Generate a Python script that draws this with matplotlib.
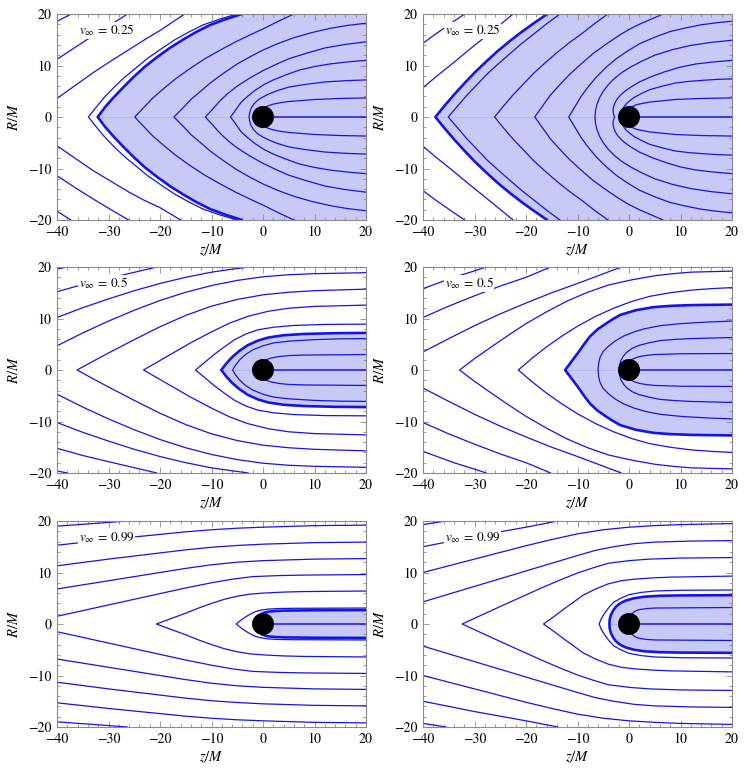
import matplotlib
matplotlib.use('Agg')
from matplotlib import pyplot as plt
from matplotlib.patches import Circle
from matplotlib.ticker import MultipleLocator

# velocities shown in each panel (row by row)
V_LABELS = ['0.25', '0.25', '0.5', '0.5', '0.99', '0.99']

XLIM = (-40, 20)
YLIM = (-20, 20)
HORIZON_R = 2.0
AXIS_LINE = [(2.0, 0.0), (20.0, 0.0)]

# ---- panel 1 : v = 0.25 (left) ----
# upper branches (z, R); "vee" lines are mirrored through R = 0
P1_THICK = [(-32.1, 0), (-30.6, 2.0), (-29.0, 3.8), (-27.1, 5.8), (-25.1, 7.8), (-22.9, 9.8), (-20.6, 11.6),
            (-18.1, 13.4), (-15.4, 15.1), (-12.8, 16.6), (-10.2, 17.9), (-7.2, 19.0), (-4.1, 20.0)]
P1_VEE = [
    [(-33.9, 0), (-32.4, 1.9), (-30.9, 3.7), (-29.0, 5.7), (-27.0, 7.6), (-24.7, 9.5), (-22.4, 11.4),
     (-19.8, 13.2), (-17.1, 15.0), (-14.4, 16.5), (-11.6, 17.9), (-8.4, 19.0), (-5.1, 20.0)],
    [(-24.9, 0), (-23.2, 1.8), (-21.5, 3.6), (-19.3, 5.5), (-17.0, 7.4), (-14.2, 9.4), (-11.3, 11.3),
     (-8.3, 13.0), (-5.3, 14.6), (-2.6, 15.9), (0.0, 17.1), (3.0, 18.6), (6.0, 20.0)],
    [(-17.3, 0), (-15.6, 1.7), (-14.0, 3.4), (-12.0, 5.1), (-10.0, 6.8), (-7.5, 8.6), (-5.0, 10.3),
     (-2.5, 11.7), (0.0, 13.0), (3.0, 14.3), (6.0, 15.4), (9.5, 16.4), (13.0, 17.2), (16.5, 17.8), (20.0, 18.2)],
    [(-11.2, 0), (-9.8, 1.5), (-8.5, 3.0), (-6.8, 4.6), (-5.0, 6.0), (-2.5, 7.6), (0.0, 9.0), (2.5, 10.2),
     (5.0, 11.3), (8.5, 12.4), (12.0, 13.4), (16.0, 14.1), (20.0, 14.6)],
    [(-6.3, 0), (-5.2, 1.5), (-4.3, 2.8), (-3.0, 4.0), (-1.5, 5.2), (0.2, 6.3), (2.0, 7.2), (4.5, 8.2),
     (7.0, 9.1), (10.0, 9.8), (13.0, 10.3), (16.5, 10.7), (20.0, 11.0)],
    [(-2.7, 0), (-2.6, 0.8), (-2.3, 1.7), (-1.8, 2.5), (-1.0, 3.3), (0.0, 3.9), (1.2, 4.5), (3.0, 5.2),
     (5.0, 5.8), (8.0, 6.3), (12.0, 6.8), (16.0, 7.05), (20.0, 7.2)],
]
P1_SIDE = [
    [(0.5, 1.95), (1.2, 2.25), (2.0, 2.5), (3.5, 2.8), (5.0, 3.0), (7.5, 3.2), (10.0, 3.4), (15.0, 3.6), (20.0, 3.7)],
]
P1_UPPER = [
    [(-40, 18.6), (-37.2, 20)],
    [(-40, 11.2), (-36.5, 13.5), (-33, 15.8), (-29.6, 17.9), (-26.3, 20)],
    [(-40, 3.6), (-36.5, 6.1), (-33, 8.6), (-29.5, 10.9), (-26, 13.1), (-23, 15.0), (-20, 16.8), (-17.6, 18.4), (-15.2, 20)],
]
P1_LOWER = [
    [(-40, -18.3), (-37.3, -20)],
    [(-40, -11.4), (-36.5, -13.7), (-33, -15.9), (-29.5, -18.0), (-26.1, -20)],
    [(-40, -5.6), (-36.5, -8.0), (-33, -10.4), (-29.5, -12.5), (-26, -14.6), (-23, -16.2), (-20, -17.6), (-18, -18.8), (-16.0, -20)],
]

# ---- panel 2 : v = 0.25 (right) ----
P2_THICK = [(-37.6, 0), (-35.8, 2.2), (-34.0, 4.3), (-32.0, 6.5), (-30.0, 8.6), (-27.8, 10.7), (-25.5, 12.8),
            (-23.2, 14.7), (-21.0, 16.4), (-18.5, 18.2), (-15.9, 20.0)]
P2_VEE = [
    [(-35.1, 0), (-33.3, 2.1), (-31.5, 4.2), (-29.5, 6.3), (-27.5, 8.4), (-25.3, 10.4), (-23.0, 12.4),
     (-20.8, 14.3), (-18.5, 16.1), (-16.0, 18.1), (-13.4, 20.0)],
    [(-26.1, 0), (-24.3, 2.2), (-22.5, 4.3), (-20.5, 6.4), (-18.5, 8.5), (-16.3, 10.5), (-14.0, 12.5),
     (-11.5, 14.5), (-9.0, 16.3), (-6.6, 18.2), (-4.1, 20.0)],
    [(-18.3, 0), (-16.8, 2.1), (-15.3, 4.2), (-13.4, 6.3), (-11.5, 8.3), (-9.3, 10.3), (-7.0, 12.3),
     (-4.5, 14.1), (-2.0, 15.8), (0.0, 17.0), (2.0, 18.0), (4.3, 19.0), (6.6, 20.0)],
    [(-11.7, 0), (-10.5, 2.0), (-9.3, 4.0), (-7.9, 5.9), (-6.3, 7.8), (-4.5, 9.6), (-2.5, 11.3), (-0.3, 12.8),
     (2.0, 14.2), (5.0, 15.5), (8.0, 16.6), (11.0, 17.3), (14.0, 17.9), (17.0, 18.3), (20.0, 18.6)],
    [(-6.6, 0), (-6.5, 1.3), (-6.2, 2.5), (-5.7, 3.8), (-5.0, 5.0), (-4.0, 6.3), (-2.8, 7.5), (-1.3, 8.7),
     (0.5, 9.8), (2.6, 10.9), (5.0, 12.0), (8.5, 13.1), (12.0, 13.9), (16.0, 14.5), (20.0, 14.9)],
    [(-2.8, 0), (-3.05, 0.7), (-3.1, 1.3), (-3.0, 2.0), (-2.7, 2.8), (-2.3, 3.5), (-1.6, 4.3), (-0.8, 5.0),
     (0.5, 5.9), (2.0, 6.8), (4.5, 7.9), (7.0, 8.8), (10.0, 9.7), (13.0, 10.3), (16.5, 10.7), (20.0, 11.0)],
]
P2_SIDE = [
    [(-1.2, 1.6), (-0.9, 2.1), (-0.5, 2.6), (0.2, 3.2), (1.0, 3.8), (2.5, 4.6), (4.0, 5.3), (6.5, 6.0),
     (9.0, 6.6), (11.5, 6.9), (14.0, 7.1), (17.0, 7.3), (20.0, 7.4)],
    [(0.4, 1.95), (0.9, 2.15), (1.5, 2.4), (2.7, 2.65), (4.0, 2.9), (6.5, 3.15), (9.0, 3.4), (14.0, 3.6), (20.0, 3.7)],
    [(-40, 14.3), (-38, 15.8), (-36, 17.2), (-34, 18.6), (-31.9, 20)],
    [(-40, 5.7), (-37, 8.2), (-34, 10.6), (-31, 13.1), (-28, 15.5), (-25.2, 17.8), (-22.5, 20)],
]

# ---- panel 3 : v = 0.5 (left) ----
P3_THICK = [(-8.1, 0), (-7.1, 1.3), (-6.0, 2.5), (-4.6, 3.7), (-3.0, 4.8), (-1.0, 5.7), (1.0, 6.3),
            (4.0, 6.75), (8.0, 7.0), (14.0, 7.15), (20.0, 7.2)]
P3_VEE = [
    [(-5.9, 0), (-5.3, 1.0), (-4.5, 2.0), (-3.4, 3.0), (-2.0, 3.9), (0.0, 4.7), (2.0, 5.25), (5.0, 5.6),
     (10.0, 5.9), (15.0, 6.05), (20.0, 6.1)],
    [(-13.1, 0), (-11.3, 1.5), (-9.5, 3.0), (-7.5, 4.5), (-5.5, 5.9), (-3.3, 7.0), (-1.0, 7.8), (2.0, 8.3),
     (6.0, 8.65), (12.0, 8.85), (20.0, 8.9)],
    [(-23.2, 0), (-20.6, 1.5), (-18.0, 3.0), (-14.0, 5.3), (-10.0, 7.4), (-6.5, 9.1), (-3.0, 10.4), (1.0, 11.4),
     (5.0, 12.0), (10.0, 12.35), (20.0, 12.6)],
    [(-36.1, 0), (-33.0, 1.7), (-30.0, 3.3), (-25.0, 5.9), (-20.0, 8.4), (-15.0, 10.6), (-10.0, 12.4),
     (-5.0, 13.7), (0.0, 14.6), (5.0, 15.1), (10.0, 15.4), (20.0, 15.7)],
]
P3_SIDE = [
    [(0.5, 1.95), (1.5, 2.3), (3.0, 2.6), (5.0, 2.8), (8.0, 2.9), (20.0, 3.0)],
    [(-40, 4.7), (-35, 7.2), (-30, 9.5), (-25, 11.6), (-20, 13.5), (-15, 15.1), (-10, 16.4), (-5, 17.4),
     (0, 18.1), (5, 18.5), (10, 18.7), (20, 18.9)],
    [(-40, 10.2), (-35, 12.1), (-30, 13.8), (-25, 15.4), (-20, 16.8), (-15, 18.0), (-10, 19.0), (-6.5, 19.5), (-2.8, 20)],
    [(-40, 15.2), (-35, 16.6), (-30, 17.8), (-25.3, 18.9), (-20.6, 20)],
    [(-40, 19.6), (-38, 20)],
]

# ---- panel 4 : v = 0.5 (right) ----
P4_THICK = [(-12.4, 0), (-11.2, 1.6), (-10.0, 3.2), (-8.8, 4.9), (-7.6, 6.5), (-6.1, 7.9), (-4.5, 9.0),
            (-3.1, 9.9), (-1.7, 10.7), (1.3, 11.6), (4.7, 12.2), (8.0, 12.45), (12.0, 12.6), (20.0, 12.7)]
P4_VEE = [
    [(-6.0, 0), (-5.9, 1.3), (-5.6, 2.5), (-5.0, 3.6), (-4.0, 4.6), (-2.6, 5.7), (-1.0, 6.6), (1.0, 7.4),
     (3.0, 8.0), (6.0, 8.6), (10.0, 9.0), (15.0, 9.3), (20.0, 9.5)],
    [(-1.9, 0), (-1.85, 0.9), (-1.6, 1.8), (-1.1, 2.7), (-0.5, 3.4), (0.6, 4.2), (2.0, 4.8), (4.0, 5.3),
     (6.0, 5.7), (9.0, 5.95), (12.0, 6.1), (20.0, 6.3)],
    [(-21.5, 0), (-18.8, 2.3), (-16.0, 4.5), (-13.0, 6.6), (-10.0, 8.5), (-6.5, 10.4), (-3.0, 12.0),
     (0.5, 13.3), (4.0, 14.3), (8.0, 15.0), (12.0, 15.5), (16.0, 15.8), (20.0, 16.0)],
    [(-32.9, 0), (-30.0, 2.2), (-27.0, 4.3), (-23.5, 6.7), (-20.0, 9.0), (-16.0, 11.3), (-12.0, 13.4),
     (-8.0, 15.1), (-4.0, 16.5), (0.5, 17.5), (5.0, 18.3), (8.5, 18.7), (12.0, 19.0), (20.0, 19.2)],
]
P4_SIDE = [
    [(0.4, 1.95), (1.1, 2.3), (2.0, 2.6), (3.5, 2.85), (5.0, 3.0), (10.0, 3.15), (20.0, 3.2)],
    [(-40, 3.5), (-35, 6.1), (-30, 8.6), (-25, 10.9), (-20, 13.0), (-15, 15.0), (-10, 16.8), (-6, 18.3), (-1.5, 20)],
    [(-40, 10.2), (-35, 12.4), (-30, 14.4), (-25, 16.3), (-20, 18.0), (-15.2, 20)],
    [(-40, 15.8), (-37, 16.9), (-34, 18.0), (-30.8, 19.0), (-27.7, 20)],
]

# ---- panel 5 : v = 0.99 (left) ----
P5_THICK = [(-0.3, 2.0), (0.3, 2.2), (1.0, 2.4), (2.3, 2.52), (4.0, 2.6), (10.0, 2.67), (20.0, 2.7)]
P5_VEE = [
    [(-5.2, 0), (-4.4, 0.65), (-3.5, 1.3), (-2.5, 1.9), (-1.5, 2.4), (-0.3, 2.7), (1.0, 2.9), (3.0, 3.0),
     (6.0, 3.05), (20.0, 3.1)],
    [(-20.7, 0), (-18.0, 1.0), (-15.0, 2.1), (-12.5, 3.1), (-10.0, 4.0), (-7.5, 4.8), (-5.0, 5.4),
     (-2.5, 5.8), (0.0, 6.0), (4.0, 6.2), (8.0, 6.3), (20.0, 6.4)],
]
P5_SIDE = [
    [(-40, 1.5), (-35, 2.6), (-30, 3.7), (-25, 4.8), (-20, 5.9), (-15, 7.0), (-10, 8.0), (-6, 8.7),
     (-2, 9.2), (3, 9.4), (8, 9.5), (20, 9.6)],
    [(-40, 6.8), (-30, 8.4), (-20, 10.0), (-15, 10.8), (-10, 11.5), (-5, 12.0), (0, 12.3), (10, 12.6), (20, 12.7)],
    [(-40, 11.3), (-30, 12.6), (-20, 13.8), (-15, 14.4), (-10, 14.9), (-5, 15.25), (0, 15.5), (10, 15.8), (20, 15.9)],
    [(-40, 15.3), (-30, 16.4), (-20, 17.4), (-15, 17.9), (-10, 18.3), (-5, 18.6), (0, 18.8), (10, 19.1), (20, 19.2)],
    [(-40, 19.0), (-33, 19.5), (-26.4, 20)],
]

# ---- panel 6 : v = 0.99 (right) ----
P6_THICK = [(-3.8, 0), (-3.75, 0.9), (-3.5, 1.8), (-3.1, 2.6), (-2.5, 3.4), (-1.6, 4.1), (-0.5, 4.6),
            (1.0, 5.0), (3.0, 5.3), (6.0, 5.48), (10.0, 5.55), (20.0, 5.6)]
P6_VEE = [
    [(-5.8, 0), (-5.4, 1.0), (-4.8, 2.0), (-4.0, 3.1), (-3.0, 4.2), (-1.6, 5.0), (0.0, 5.7), (2.5, 6.15),
     (5.0, 6.4), (10.0, 6.55), (20.0, 6.6)],
    [(-16.6, 0), (-14.5, 1.5), (-12.5, 3.0), (-10.7, 4.3), (-8.9, 5.6), (-6.5, 6.8), (-4.0, 7.8),
     (-1.5, 8.4), (1.0, 8.7), (4.5, 8.95), (8.0, 9.1), (20.0, 9.3)],
    [(-32.4, 0), (-28.7, 1.7), (-25.0, 3.4), (-21.0, 5.2), (-17.0, 7.0), (-13.5, 8.5), (-10.0, 9.9),
     (-7.0, 10.9), (-4.0, 11.8), (0.0, 12.3), (4.0, 12.6), (10.0, 12.8), (20.0, 12.9)],
]
P6_SIDE = [
    [(0.5, 1.95), (1.2, 2.5), (2.0, 2.8), (3.5, 3.0), (5.0, 3.1), (20.0, 3.2)],
    [(-40, 4.3), (-35, 5.8), (-30, 7.3), (-25, 8.8), (-20, 10.3), (-15, 11.8), (-10, 13.3), (-6.5, 14.3),
     (-3, 15.0), (1, 15.6), (5, 15.9), (12, 16.1), (20, 16.2)],
    [(-40, 10.0), (-35, 11.3), (-30, 12.6), (-25, 13.9), (-20, 15.2), (-15, 16.4), (-10, 17.5), (-5, 18.3),
     (0, 18.8), (5, 19.1), (10, 19.3), (20, 19.5)],
    [(-40, 15.0), (-35, 16.0), (-30, 17.0), (-25, 17.9), (-20, 18.8), (-13.8, 20)],
    [(-40, 19.3), (-35.5, 20)],
]

PANELS = [
    (P1_THICK, P1_VEE, P1_SIDE, P1_UPPER, P1_LOWER),
    (P2_THICK, P2_VEE, P2_SIDE, [], []),
    (P3_THICK, P3_VEE, P3_SIDE, [], []),
    (P4_THICK, P4_VEE, P4_SIDE, [], []),
    (P5_THICK, P5_VEE, P5_SIDE, [], []),
    (P6_THICK, P6_VEE, P6_SIDE, [], []),
]

LINE_C = '#1414e8'
FILL_C = '#c9c9f7'
SEAM_C = '#b4b4f0'
FRAME_C = '#8a8a8a'

plt.rcParams['font.family'] = 'STIXGeneral'
plt.rcParams['mathtext.fontset'] = 'stix'


def mirror(pts):
    return [(z, -r) for z, r in pts]


def vee_line(pts):
    # lower branch (reversed) + upper branch, joined at the cusp
    return mirror(pts)[::-1] + pts[1:]


def draw_line(ax, pts, lw=0.9):
    ax.plot([p[0] for p in pts], [p[1] for p in pts], color=LINE_C, lw=lw,
            solid_joinstyle='round', solid_capstyle='round', zorder=2)


def draw_panel(ax, thick, vees, sides, uppers, lowers, label):
    # shaded region enclosed by the thick streamline
    end = thick[-1]
    poly = thick + [(XLIM[1], end[1]), (XLIM[1], -end[1])] + mirror(thick)[::-1]
    ax.fill([p[0] for p in poly], [p[1] for p in poly], color=FILL_C, lw=0, zorder=0.5)
    if thick[0][1] == 0:
        ax.plot([thick[0][0], 0], [0, 0], color=SEAM_C, lw=0.6, zorder=0.6)

    for pts in vees:
        draw_line(ax, vee_line(pts))
    for pts in sides:
        draw_line(ax, pts)
        draw_line(ax, mirror(pts))
    for pts in uppers + lowers:
        draw_line(ax, pts)
    draw_line(ax, vee_line(thick) if thick[0][1] == 0 else mirror(thick)[::-1] + thick, lw=1.9)
    draw_line(ax, AXIS_LINE, lw=1.1)

    ax.add_patch(Circle((0, 0), HORIZON_R, color='black', zorder=4))
    ax.text(-35.8, 16.8, r'$v_\infty\,=\,%s$' % label, fontsize=9.5, va='center', ha='left',
            zorder=5, bbox=dict(facecolor='white', edgecolor='none', pad=0.6))

    ax.set_xlim(*XLIM)
    ax.set_ylim(*YLIM)
    ax.set_xticks([-40, -30, -20, -10, 0, 10, 20])
    ax.set_yticks([-20, -10, 0, 10, 20])
    ax.xaxis.set_minor_locator(MultipleLocator(2))
    ax.yaxis.set_minor_locator(MultipleLocator(2))
    ax.tick_params(which='both', direction='in', top=True, right=True, color=FRAME_C,
                   labelsize=10, width=0.6, pad=4)
    ax.tick_params(which='major', length=4)
    ax.tick_params(which='minor', length=2)
    for s in ax.spines.values():
        s.set_color(FRAME_C)
        s.set_linewidth(0.8)
    ax.set_xlabel(r'$z/M$', fontsize=10.5, labelpad=3)
    ax.set_ylabel(r'$R/M$', fontsize=10.5, labelpad=5)


fig = plt.figure(figsize=(7.47, 7.73), dpi=100)

W, H = 747.0, 773.0
lefts = [57, 423]
tops = [14, 267, 521]
for i, panel in enumerate(PANELS):
    row, col = divmod(i, 2)
    ax = fig.add_axes([lefts[col] / W, 1 - (tops[row] + 206) / H, 309 / W, 206 / H])
    draw_panel(ax, *panel, V_LABELS[i])

fig.savefig('out.png', dpi=100)
